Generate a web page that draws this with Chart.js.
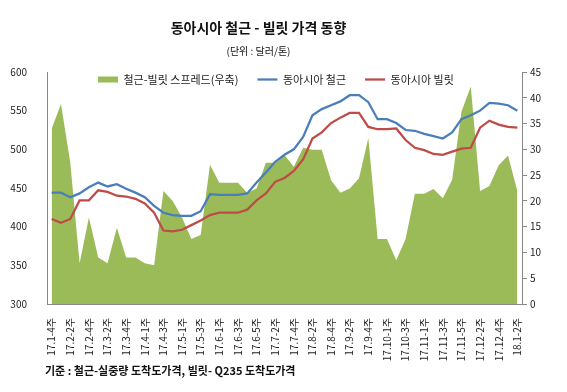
<!DOCTYPE html>
<html>
<head>
<meta charset="utf-8">
<script src="https://cdn.jsdelivr.net/npm/chart.js@4.4.1/dist/chart.umd.min.js"></script>
<style>
  body { margin: 0; background: #fff; }
  #wrap { position: relative; width: 567px; height: 392px; font-family: "Noto Sans CJK KR", sans-serif; color: #111; }
  #container { position: absolute; left: 0; top: 0; }
  .txt { position: absolute; white-space: nowrap; }
  #title { left: 0; width: 517px; top: 17px; text-align: center; font-size: 14px; font-weight: bold; line-height: 20px; }
  #unit { left: 0; width: 517px; top: 44px; text-align: center; font-size: 10px; line-height: 14px; }
  #note { left: 45px; top: 362px; font-size: 11px; font-weight: bold; line-height: 16px; }
</style>
</head>
<body>
<div id="wrap">
  <canvas id="container" width="567" height="392"></canvas>
  <div class="txt" id="title">동아시아 철근 - 빌릿 가격 동향</div>
  <div class="txt" id="unit">(단위 : 달러/톤)</div>
  <div class="txt" id="note">기준 : 철근-실중량 도착도가격, 빌릿- Q235 도착도가격</div>
</div>
<script>
"use strict";

// weekly categories (every other one is printed on the axis)
const weeks = [
    "17.1-4주", "17.2-1주", "17.2-2주", "17.2-3주", "17.2-4주", "17.3-1주", "17.3-2주", "17.3-3주",
    "17.3-4주", "17.3-5주", "17.4-1주", "17.4-2주", "17.4-3주", "17.4-4주", "17.5-1주", "17.5-2주",
    "17.5-3주", "17.5-4주", "17.6-1주", "17.6-2주", "17.6-3주", "17.6-4주", "17.6-5주", "17.7-1주",
    "17.7-2주", "17.7-3주", "17.7-4주", "17.8-1주", "17.8-2주", "17.8-3주", "17.8-4주", "17.9-1주",
    "17.9-2주", "17.9-3주", "17.9-4주", "17.9-5주", "17.10-1주", "17.10-2주", "17.10-3주", "17.10-4주",
    "17.11-1주", "17.11-2주", "17.11-3주", "17.11-4주", "17.11-5주", "17.12-1주", "17.12-2주", "17.12-3주",
    "17.12-4주", "18.1-1주", "18.1-2주"
];

// 동아시아 철근 (left axis)
const rebar = [
    444, 444, 438, 443, 451, 457, 452, 455, 449, 444,
    438, 427, 418, 415, 414, 414, 420, 442, 441, 441,
    441, 443, 457, 470, 484, 493, 500, 516, 544, 552,
    557, 562, 570, 570, 561, 539, 539, 534, 525, 524,
    520, 517, 514, 522, 539, 544, 550, 560, 559, 557, 550
];

// 동아시아 빌릿 (left axis)
const billet = [
    410, 405, 410, 434, 434, 447, 445, 440, 439, 436,
    430, 418, 395, 394, 396, 402, 408, 415, 418, 418,
    418, 422, 434, 443, 458, 463, 472, 487, 514, 522,
    534, 541, 547, 547, 529, 526, 526, 527, 512, 502,
    499, 494, 493, 497, 501, 502, 528, 537, 532, 529, 528
];

// 철근-빌릿 스프레드 (right axis)
const spread = [
    34.0, 38.8, 27.4, 7.9, 16.8, 9.0, 7.9, 14.8, 9.0, 9.0,
    7.9, 7.5, 21.9, 20.0, 16.8, 12.6, 13.4, 27.0, 23.5, 23.5,
    23.5, 21.6, 22.4, 27.4, 27.4, 28.9, 26.6, 30.3, 29.9, 29.9,
    24.0, 21.6, 22.4, 24.4, 32.2, 12.6, 12.6, 8.5, 12.6, 21.4,
    21.4, 22.3, 20.5, 24.1, 37.3, 42.2, 21.9, 22.9, 26.9, 28.8, 21.9
];

const leftRange = [300, 600, 50];
const rightRange = [0, 45, 5];

Chart.defaults.font.family = "'Noto Sans CJK KR', sans-serif";
Chart.defaults.font.size = 10;
Chart.defaults.color = "#222";

const green = "#9BBB59",
    blue = "#4A7EBB",
    red = "#BE4B48",
    axisGrey = "#888";

// legend sits inside the plot area, like the excel one
const legendInside = {
    id: "legendInside",
    beforeLayout(chart) {
        const lg = chart.legend;
        if (lg && !lg._inside) {
            const fit = lg.fit;
            lg.fit = function () {
                fit.call(this);
                this.height = 0;
            };
            lg._inside = true;
        }
    },
    afterLayout(chart) {
        const lg = chart.legend;
        lg.left = 79;
        lg.right = 567;
        lg.top = 55;
        lg.bottom = 120;
    }
};

var ctx = document.getElementById("container").getContext("2d");
var dataChart = new Chart(ctx, {
    type: "line",
    data: {
        labels: weeks,
        datasets: [{
            label: "철근-빌릿 스프레드(우축)",
            data: spread,
            yAxisID: "y1",
            fill: "origin",
            backgroundColor: green,
            borderColor: green,
            borderWidth: 0,
            pointRadius: 0,
            order: 3
        }, {
            label: "동아시아 철근",
            data: rebar,
            yAxisID: "y",
            fill: false,
            borderColor: blue,
            backgroundColor: blue,
            borderWidth: 2.25,
            pointRadius: 0,
            order: 1
        }, {
            label: "동아시아 빌릿",
            data: billet,
            yAxisID: "y",
            fill: false,
            borderColor: red,
            backgroundColor: red,
            borderWidth: 2.25,
            pointRadius: 0,
            order: 2
        }]
    },
    options: {
        responsive: false,
        animation: false,
        layout: { padding: { top: 72, left: 0, right: 0, bottom: 28 } },
        plugins: {
            title: { display: false },
            tooltip: { enabled: false },
            legend: {
                display: true,
                position: "top",
                align: "start",
                labels: {
                    usePointStyle: true,
                    pointStyleWidth: 20,
                    boxHeight: 6,
                    padding: 19,
                    color: "#222",
                    font: { size: 11 },
                    sort: (a, b) => a.datasetIndex - b.datasetIndex,
                    generateLabels(chart) {
                        const items = Chart.defaults.plugins.legend.labels.generateLabels(chart);
                        items.forEach(it => {
                            if (it.datasetIndex === 0) {
                                it.pointStyle = "rect";
                                it.fillStyle = green;
                                it.lineWidth = 0;
                            } else {
                                it.pointStyle = "line";
                            }
                        });
                        return items;
                    }
                }
            }
        },
        scales: {
            x: {
                type: "category",
                offset: true,
                grid: { display: false },
                border: { display: true, color: axisGrey, width: 1 },
                ticks: {
                    autoSkip: false,
                    maxRotation: 90,
                    minRotation: 90,
                    padding: 6,
                    font: { size: 10 },
                    callback: function (value, index) {
                        return index % 2 === 0 ? this.getLabelForValue(value) : "";
                    }
                },
                afterFit(scale) { scale.height = 60; }
            },
            y: {
                position: "left",
                min: leftRange[0],
                max: leftRange[1],
                grid: { display: false },
                border: { display: true, color: axisGrey, width: 1 },
                ticks: { stepSize: leftRange[2], padding: 12, font: { size: 10 } },
                afterFit(scale) { scale.width = 47; }
            },
            y1: {
                position: "right",
                min: rightRange[0],
                max: rightRange[1],
                grid: { drawOnChartArea: false, drawTicks: true, tickLength: 5, color: axisGrey },
                border: { display: true, color: axisGrey, width: 1 },
                ticks: { stepSize: rightRange[2], padding: 3, font: { size: 10 } },
                afterFit(scale) { scale.width = 45; }
            }
        }
    },
    plugins: [legendInside]
});
</script>
</body>
</html>
